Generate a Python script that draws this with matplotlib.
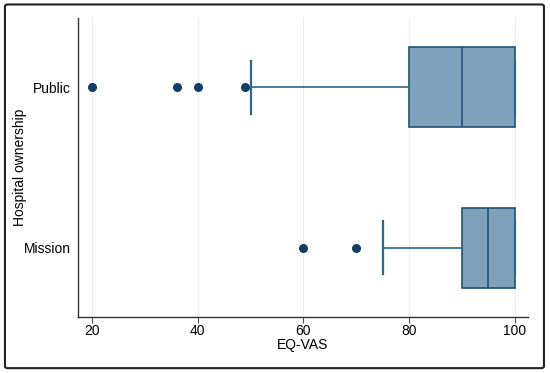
import matplotlib
matplotlib.use('Agg')
import matplotlib.pyplot as plt
from matplotlib.patches import FancyBboxPatch

plt.rcParams['font.family'] = ['Liberation Sans', 'DejaVu Sans']

# values
groups = ['Mission', 'Public']
q1 = [90, 80]
med = [95, 90]
q3 = [100, 100]
whis_lo = [75, 50]
whis_hi = [100, 100]
outliers = [[60, 70], [20, 36, 40, 49]]
xticks = [20, 40, 60, 80, 100]

box_face = '#7fa2bc'
box_edge = '#1d5275'
dot_col = '#143d66'

stats = []
for i in range(len(groups)):
	stats.append(dict(label=groups[i], q1=q1[i], med=med[i], q3=q3[i],
		whislo=whis_lo[i], whishi=whis_hi[i], fliers=outliers[i]))

fig = plt.figure(figsize=(5.5, 3.73), dpi=100)
ax = fig.add_axes([0.142, 0.150, 0.818, 0.802])

ax.bxp(stats, positions=range(len(groups)), vert=False, widths=0.5,
	patch_artist=True,
	boxprops=dict(facecolor=box_face, edgecolor=box_edge, linewidth=1.2),
	medianprops=dict(color=box_edge, linewidth=1.2),
	whiskerprops=dict(color='#2d6688', linewidth=1.2),
	capprops=dict(color='#2d6688', linewidth=1.6),
	capwidths=0.33,
	flierprops=dict(marker='o', markerfacecolor=dot_col, markeredgecolor=dot_col, markersize=5.5))

ax.set_xlim(17.35, 102.5)
ax.set_ylim(-0.43, 1.43)
ax.set_xticks(xticks)
ax.set_xticklabels([str(t) for t in xticks], fontsize=10)
ax.set_yticks(range(len(groups)))
ax.set_yticklabels(groups, fontsize=10)
ax.tick_params(axis='y', length=0, pad=5)
ax.tick_params(axis='x', length=4, color='#555555', pad=1)
ax.xaxis.grid(True, color='#e8eef2', linewidth=0.8)
ax.set_axisbelow(True)
for s in ['top', 'right']:
	ax.spines[s].set_visible(False)
for s in ['left', 'bottom']:
	ax.spines[s].set_color('#333333')
	ax.spines[s].set_linewidth(1.0)

ax.set_xlabel('EQ-VAS', fontsize=10)
ax.set_ylabel('Hospital ownership', fontsize=10)
ax.xaxis.set_label_coords(0.5, -0.094, transform=ax.transAxes)
ax.xaxis.label.set_va('center')
ax.yaxis.set_label_coords(-0.129, 0.5, transform=ax.transAxes)
ax.yaxis.label.set_va('center')

# outer frame around the whole picture
frame = FancyBboxPatch((0.009, 0.013), 0.98, 0.975, boxstyle='round,pad=0,rounding_size=0.005',
	transform=fig.transFigure, fill=False, edgecolor='#222222', linewidth=1.5)
fig.patches.append(frame)

fig.savefig('out.png', dpi=100)
